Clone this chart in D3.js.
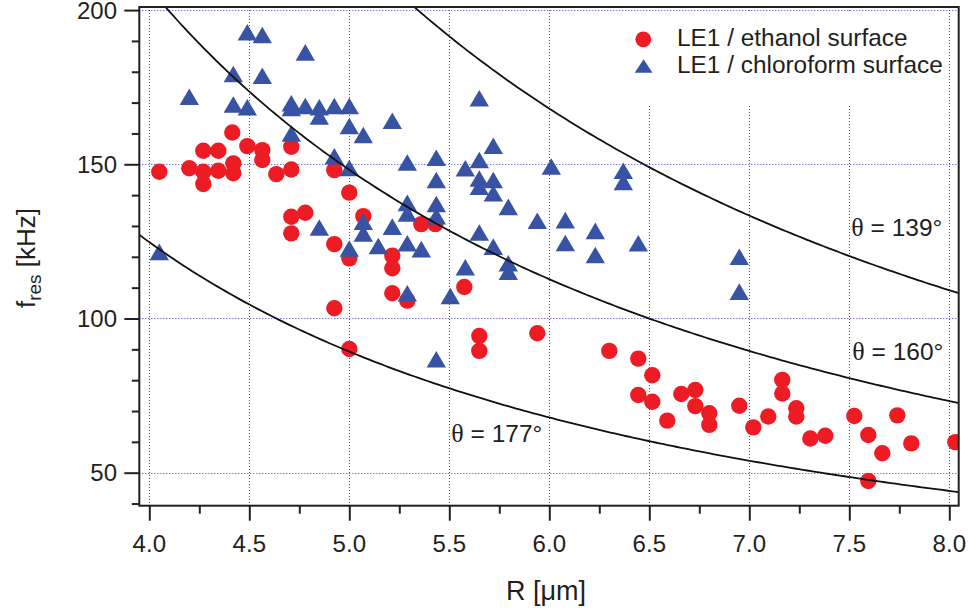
<!doctype html>
<html lang="en">
<head>
<meta charset="utf-8">
<title>f_res vs R</title>
<script src="https://d3js.org/d3.v7.min.js"></script>
<style>
  body { margin: 0; background: #fff; }
  text { font-family: "Liberation Sans", Arial, Helvetica, sans-serif; fill: #231f20; }
  .serif { font-family: "Liberation Serif", "DejaVu Serif", serif; }
</style>
</head>
<body>
<div id="chart"></div>
<script>

// ethanol surface (red circles): R [um], f_res [kHz]
var ethanolR = [4.05, 4.20, 4.27, 4.345, 4.27, 4.27, 4.345, 4.415, 4.42, 4.42,
    4.49, 4.565, 4.565, 4.635, 4.71, 4.71, 4.71, 4.78, 4.71, 4.925,
    5.0, 5.07, 4.925, 5.0, 5.215, 5.215, 5.215, 5.29, 4.925, 5.36,
    5.43, 5.575, 5.0, 5.65, 5.65, 5.94, 6.30, 6.445, 6.515, 6.445,
    6.515, 6.59, 6.66, 6.73, 6.73, 6.80, 6.80, 6.95, 7.02, 7.095,
    7.165, 7.165, 7.235, 7.235, 7.305, 7.38, 7.525, 7.595, 7.595, 7.665,
    7.74, 7.81, 8.03];
var ethanolF = [147.6, 148.7, 154.4, 154.4, 147.6, 143.6, 147.9, 160.3, 150.3, 147.1,
    155.9, 154.6, 151.4, 146.8, 155.7, 148.3, 133.0, 134.3, 127.6, 148.1,
    140.8, 133.2, 124.1, 119.5, 120.4, 116.3, 108.2, 105.8, 103.3, 130.6,
    130.6, 110.2, 90.1, 94.3, 89.5, 95.2, 89.5, 87.0, 81.6, 75.2,
    73.0, 66.9, 75.5, 76.8, 71.6, 69.3, 65.5, 71.7, 64.7, 68.2,
    80.1, 75.7, 70.9, 68.2, 61.1, 62.0, 68.4, 62.2, 47.3, 56.3,
    68.6, 59.5, 59.9];

// chloroform surface (blue triangles)
var chloroR = [4.05, 4.20, 4.42, 4.42, 4.49, 4.49, 4.565, 4.565, 4.71, 4.71,
    4.71, 4.78, 4.78, 4.85, 4.85, 4.85, 4.925, 4.925, 5.0, 5.0,
    5.0, 5.0, 5.07, 5.07, 5.07, 5.145, 5.215, 5.215, 5.29, 5.29,
    5.29, 5.29, 5.29, 5.36, 5.435, 5.435, 5.435, 5.435, 5.435, 5.505,
    5.58, 5.58, 5.65, 5.65, 5.65, 5.65, 5.65, 5.72, 5.72, 5.72,
    5.72, 5.795, 5.795, 5.795, 5.94, 6.01, 6.08, 6.08, 6.23, 6.23,
    6.37, 6.37, 6.445, 6.95, 6.95];
var chloroF = [121.6, 171.9, 179.3, 169.4, 192.8, 168.5, 191.9, 178.7, 169.8, 168.3,
    160.0, 186.3, 168.9, 168.5, 165.5, 129.5, 168.9, 152.6, 168.9, 162.4,
    148.8, 122.7, 159.5, 131.4, 127.6, 123.5, 164.1, 129.8, 150.6, 137.5,
    134.1, 124.4, 108.2, 122.5, 152.1, 144.9, 137.1, 133.2, 86.8, 107.3,
    148.7, 116.6, 171.4, 151.4, 145.4, 142.7, 127.9, 156.0, 144.9, 140.6,
    123.3, 136.2, 117.9, 115.2, 131.7, 149.3, 131.9, 124.5, 128.4, 120.6,
    147.9, 144.3, 124.4, 120.0, 108.7];

// contact angle curves, f = C * R^-1.5
var curveLabels = [" = 139\u00B0", " = 160\u00B0", " = 177\u00B0"];
var curveC = [2470, 1657, 998];
var curveLabelR = [7.51, 7.515, 5.51];
var curveLabelF = [126.6, 86.5, 59.8];

var xTicks = [4.0, 4.5, 5.0, 5.5, 6.0, 6.5, 7.0, 7.5, 8.0];
var yTicks = [50, 100, 150, 200];

var legendLabels = ["LE1 / ethanol surface", "LE1 / chloroform surface"];

var width = 971;
var height = 611;
var plotLeft = 139.3, plotRight = 958.7, plotTop = 7, plotBottom = 505.7;

var red = "#ed1c24";
var blue = "#3953a4";

var svg = d3.select("#chart").append("svg")
    .attr("width", width)
    .attr("height", height);

var x = d3.scaleLinear().domain([3.95, 8.047]).range([plotLeft, plotRight]);
var y = d3.scaleLinear().domain([39.3, 201]).range([plotBottom, plotTop]);

svg.append("clipPath").attr("id", "plotclip")
  .append("rect")
    .attr("x", plotLeft).attr("y", plotTop)
    .attr("width", plotRight - plotLeft).attr("height", plotBottom - plotTop);

// grid
var grid = svg.append("g")
    .attr("stroke", "#3e3ed2")
    .attr("stroke-width", 1)
    .attr("stroke-dasharray", "1,2");

grid.selectAll("line.gx").data(xTicks).enter().append("line")
    .attr("x1", function(d) { return Math.round(x(d)) + 0.5; })
    .attr("x2", function(d) { return Math.round(x(d)) + 0.5; })
    .attr("y1", plotTop).attr("y2", plotBottom);

grid.selectAll("line.gy").data(yTicks).enter().append("line")
    .attr("y1", function(d) { return Math.round(y(d)) + 0.5; })
    .attr("y2", function(d) { return Math.round(y(d)) + 0.5; })
    .attr("x1", plotLeft).attr("x2", plotRight);

// legend background hides the grid behind it
svg.append("rect")
    .attr("x", 628).attr("y", 12)
    .attr("width", 318).attr("height", 94)
    .attr("fill", "#fff");

var plot = svg.append("g").attr("clip-path", "url(#plotclip)");

// ethanol points
plot.selectAll("circle.eth").data(ethanolR).enter().append("circle")
    .attr("cx", function(d) { return x(d); })
    .attr("cy", function(d, i) { return y(ethanolF[i]); })
    .attr("r", 8.2)
    .attr("fill", red);

// chloroform points, triangle centred on its box
function tri(w, h) {
    return "M0," + (-h / 2) + "L" + (w / 2) + "," + (h / 2) + "L" + (-w / 2) + "," + (h / 2) + "Z";
}

plot.selectAll("path.chl").data(chloroR).enter().append("path")
    .attr("d", tri(19.4, 16.6))
    .attr("transform", function(d, i) { return "translate(" + x(d) + "," + y(chloroF[i]) + ")"; })
    .attr("fill", blue);

// curves
var rs = d3.range(0, 201).map(function(i) { return 3.95 + i * (8.047 - 3.95) / 200; });
var line = d3.line()
    .x(function(d) { return x(d[0]); })
    .y(function(d) { return y(d[1]); });

curveC.forEach(function(c) {
    plot.append("path")
        .attr("d", line(rs.map(function(r) { return [r, c * Math.pow(r, -1.5)]; })))
        .attr("fill", "none")
        .attr("stroke", "#111")
        .attr("stroke-width", 1.8);
});

curveLabels.forEach(function(t, i) {
    var lab = svg.append("text")
        .attr("x", x(curveLabelR[i]))
        .attr("y", y(curveLabelF[i]))
        .attr("font-size", 24.5);
    lab.append("tspan").attr("class", "serif").attr("font-size", 26).text("\u03B8");
    lab.append("tspan").text(t);
});

// axes
var frame = svg.append("g").attr("stroke", "#231f20").attr("stroke-width", 2).attr("fill", "none");
frame.append("rect")
    .attr("x", plotLeft).attr("y", plotTop)
    .attr("width", plotRight - plotLeft).attr("height", plotBottom - plotTop);

var xAxis = d3.axisBottom(x).tickValues(d3.range(4.0, 8.01, 0.25)).tickSize(8)
    .tickFormat(function(d) { return ""; });
svg.append("g").attr("transform", "translate(0," + plotBottom + ")").call(xAxis)
    .call(function(g) {
        g.select(".domain").remove();
        g.selectAll(".tick line").attr("stroke", "#231f20").attr("stroke-width", 2)
            .attr("y2", function(d) { return Math.abs(d * 2 - Math.round(d * 2)) < 1e-6 ? 15 : 8; });
    });

svg.append("g").selectAll("text").data(xTicks).enter().append("text")
    .attr("x", function(d) { return x(d); })
    .attr("y", 552)
    .attr("text-anchor", "middle")
    .attr("font-size", 24)
    .text(function(d) { return d.toFixed(1); });

var yAxis = d3.axisLeft(y).tickValues(d3.range(40, 201, 10)).tickSize(7)
    .tickFormat(function(d) { return ""; });
svg.append("g").attr("transform", "translate(" + plotLeft + ",0)").call(yAxis)
    .call(function(g) {
        g.select(".domain").remove();
        g.selectAll(".tick line").attr("stroke", "#231f20").attr("stroke-width", 2)
            .attr("x2", function(d) { return d % 50 === 0 ? -15 : -7.5; });
    });

svg.append("g").selectAll("text").data(yTicks).enter().append("text")
    .attr("x", 117)
    .attr("y", function(d) { return y(d) + 8.5; })
    .attr("text-anchor", "end")
    .attr("font-size", 24)
    .text(function(d) { return d; });

// axis titles
svg.append("text")
    .attr("x", 546).attr("y", 600)
    .attr("text-anchor", "middle")
    .attr("font-size", 27)
    .text("R [\u03BCm]");

var yl = svg.append("text")
    .attr("transform", "translate(35,258) rotate(-90)")
    .attr("text-anchor", "middle")
    .attr("font-size", 26);
yl.append("tspan").text("f");
yl.append("tspan").attr("font-size", 19).attr("dy", 6).text("res");
yl.append("tspan").attr("dy", -6).text(" [kHz]");

// legend
svg.append("circle").attr("cx", 643.3).attr("cy", 39.3).attr("r", 7.9).attr("fill", red);
svg.append("path").attr("d", tri(17.8, 13.6))
    .attr("transform", "translate(643.6,66)").attr("fill", blue);

svg.selectAll("text.leg").data(legendLabels).enter().append("text")
    .attr("x", 677)
    .attr("y", function(d, i) { return 46 + i * 27.3; })
    .attr("font-size", 24.4)
    .text(function(d) { return d; });

</script>
</body>
</html>
